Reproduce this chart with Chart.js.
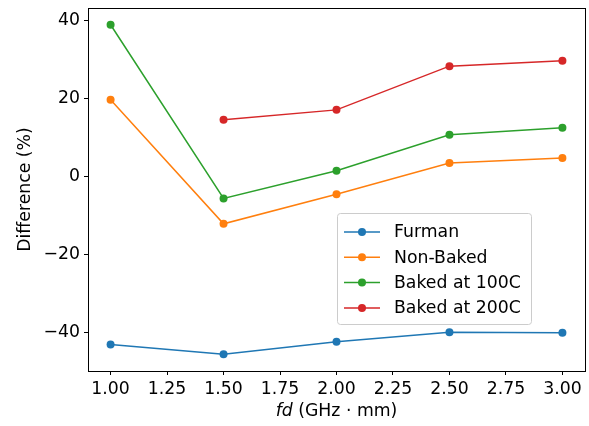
<!DOCTYPE html>
<html><head><meta charset="utf-8">
<script src="https://cdn.jsdelivr.net/npm/chart.js@4/dist/chart.umd.min.js"></script>
<style>html,body{margin:0;padding:0;background:#fff}#wrap{width:589px;height:426px;position:relative}</style>
</head><body><div id="wrap"><canvas id="c" width="589" height="426"></canvas></div>
<script>
const xValues = [1.0, 1.5, 2.0, 2.5, 3.0];
const furman = [-43.1, -45.6, -42.4, -40.0, -40.1];
const nonBaked = [19.6, -12.2, -4.6, 3.4, 4.7];
const baked100 = [38.8, -5.7, 1.4, 10.6, 12.4];
const baked200 = [null, 14.5, 17.0, 28.2, 29.6];
const seriesNames = ['Furman', 'Non-Baked', 'Baked at 100C', 'Baked at 200C'];
const xTicks = [1.00, 1.25, 1.50, 1.75, 2.00, 2.25, 2.50, 2.75, 3.00];
const yTicks = [-40, -20, 0, 20, 40];
const colors = ['#1f77b4', '#ff7f0e', '#2ca02c', '#d62728'];
const FONT = 'DejaVu Sans';
const FS = 17.3;

function mk(vals, i) {
  return {
    label: seriesNames[i],
    data: xValues.map((x, k) => ({x: x, y: vals[k]})),
    borderColor: colors[i], backgroundColor: colors[i],
    borderWidth: 1.5, pointRadius: 4, pointHoverRadius: 4, pointBorderWidth: 0,
    tension: 0, spanGaps: false
  };
}

const boxPlugin = {
  id: 'box',
  afterDraw(chart) {
    const {ctx, chartArea: a} = chart;
    ctx.save();
    ctx.strokeStyle = '#000'; ctx.lineWidth = 1;
    ctx.strokeRect(Math.round(a.left) + 0.5, Math.round(a.top) + 0.5, Math.round(a.right - a.left), Math.round(a.bottom - a.top));
    // legend
    const lx = 337.5, ly = 213.5, lw = 194, lh = 111;
    ctx.fillStyle = 'rgba(255,255,255,0.8)';
    ctx.strokeStyle = '#cccccc';
    ctx.beginPath();
    if (ctx.roundRect) ctx.roundRect(lx, ly, lw, lh, 3); else ctx.rect(lx, ly, lw, lh);
    ctx.fill(); ctx.stroke();
    ctx.font = FS + 'px "' + FONT + '"';
    ctx.textBaseline = 'middle';
    chart.data.datasets.forEach((ds, i) => {
      const y = 232 + i * 25.3;
      ctx.strokeStyle = ds.borderColor; ctx.lineWidth = 1.5;
      ctx.beginPath(); ctx.moveTo(344, y); ctx.lineTo(380, y); ctx.stroke();
      ctx.fillStyle = ds.borderColor;
      ctx.beginPath(); ctx.arc(362, y, 4, 0, Math.PI * 2); ctx.fill();
      ctx.fillStyle = '#000';
      ctx.fillText(ds.label, 394, y + 1);
    });
    // x title with italic fd
    ctx.textBaseline = 'alphabetic';
    const cx = (a.left + a.right) / 2, ty = 416;
    ctx.font = 'italic ' + FS + 'px "' + FONT + '"';
    const w1 = ctx.measureText('fd').width;
    ctx.font = FS + 'px "' + FONT + '"';
    const rest = ' (GHz \u00b7 mm)';
    const w2 = ctx.measureText(rest).width;
    let sx = cx - (w1 + w2) / 2;
    ctx.font = 'italic ' + FS + 'px "' + FONT + '"';
    ctx.fillText('fd', sx, ty);
    ctx.font = FS + 'px "' + FONT + '"';
    ctx.fillText(rest, sx + w1, ty);
    ctx.restore();
  }
};

new Chart(document.getElementById('c'), {
  type: 'line',
  data: { datasets: [mk(furman, 0), mk(nonBaked, 1), mk(baked100, 2), mk(baked200, 3)] },
  options: {
    responsive: false, animation: false, devicePixelRatio: 1,
    layout: { padding: { left: 0, right: 3, top: 8, bottom: 0 } },
    plugins: { legend: { display: false }, tooltip: { enabled: false } },
    scales: {
      x: {
        type: 'linear', min: 0.9, max: 3.1,
        afterBuildTicks(s) { s.ticks = xTicks.map(v => ({value: v})); },
        afterFit(s) { s.height = 55; s.paddingLeft = 0; s.paddingRight = 0; },
        ticks: { callback: v => v.toFixed(2), color: '#000', font: { family: FONT, size: FS }, padding: 4, maxRotation: 0, autoSkip: false },
        grid: { drawOnChartArea: false, drawTicks: true, tickLength: 4, color: '#000', tickWidth: 1 },
        border: { display: false },
        title: { display: false }
      },
      y: {
        type: 'linear', min: -49.9, max: 43.1,
        afterBuildTicks(s) { s.ticks = yTicks.map(v => ({value: v})); },
        afterFit(s) { s.width = 88; s.paddingTop = 0; s.paddingBottom = 0; },
        ticks: { callback: v => (v < 0 ? '\u2212' + Math.abs(v) : String(v)), color: '#000', font: { family: FONT, size: FS }, padding: 4, autoSkip: false },
        grid: { drawOnChartArea: false, drawTicks: true, tickLength: 4, color: '#000', tickWidth: 1 },
        border: { display: false },
        title: { display: true, text: 'Difference (%)', color: '#000', font: { family: FONT, size: FS }, padding: { top: 15, bottom: 0 } }
      }
    }
  },
  plugins: [boxPlugin]
});
</script></body></html>
